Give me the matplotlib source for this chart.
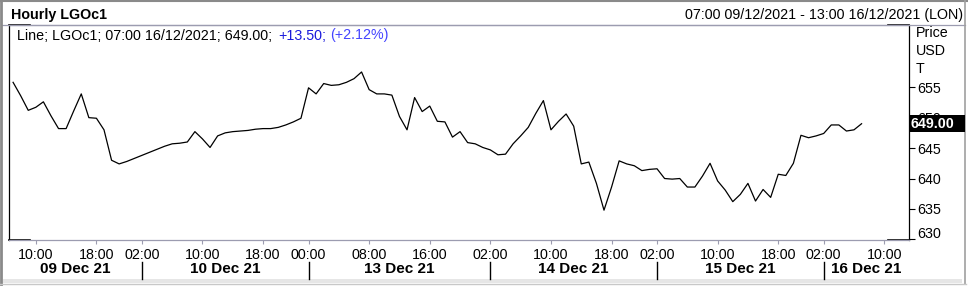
import matplotlib
matplotlib.use("Agg")
import matplotlib.pyplot as plt
import matplotlib.transforms as mtransforms
from matplotlib.patches import Rectangle
from matplotlib.lines import Line2D
import numpy as np

plt.rcParams['font.family'] = ['Liberation Sans', 'DejaVu Sans']

# hourly LGOc1 closes, one list per trading day (07:00 09 Dec .. 07:00 16 Dec)
dec09 = [655.8, 653.6, 651.2, 651.7, 652.6, 650.3, 648.2, 648.2, 651.1, 653.9,
         650.0, 649.9, 648.0, 643.0, 642.4, 642.8]
dec10 = [643.3, 643.8, 644.3, 644.8, 645.3, 645.7, 645.8, 646.0, 647.7, 646.5,
         645.1, 647.0, 647.5, 647.7, 647.8, 647.9, 648.1, 648.2, 648.2, 648.4,
         648.8, 649.3]
dec12 = [649.9]
dec13 = [654.9, 653.9, 655.6, 655.3, 655.4, 655.8, 656.4, 657.5, 654.6, 653.9,
         653.9, 653.7, 650.2, 648.0, 653.3, 651.0, 651.9, 649.4, 649.3, 646.8,
         647.7, 645.9, 645.7]
dec14 = [645.1, 644.7, 643.9, 644.0, 645.7, 647.0, 648.4, 650.7, 652.8, 648.0,
         649.4, 650.6, 648.6, 642.4, 642.7, 639.2, 634.8, 638.6, 642.9, 642.4,
         642.1, 641.3]
dec15 = [641.5, 641.6, 640.0, 639.9, 640.0, 638.6, 638.6, 640.4, 642.5, 639.6,
         638.1, 636.2, 637.4, 639.2, 636.3, 638.2, 636.9, 640.7, 640.5, 642.5,
         647.1, 646.7]
dec16 = [647.0, 647.4, 648.8, 648.8, 647.8, 648.0, 649.0]
price = dec09 + dec10 + dec12 + dec13 + dec14 + dec15 + dec16

# bar index of each time label on the x axis
tick_pos = [3, 11, 17, 25, 33, 39, 47, 55, 63, 71, 79, 85, 93, 101, 107, 115]
tick_labels = ["10:00", "18:00", "02:00", "10:00", "18:00", "00:00", "08:00", "16:00",
               "02:00", "10:00", "18:00", "02:00", "10:00", "18:00", "02:00", "10:00"]
day_starts = [17, 39, 63, 85, 107]
day_labels = ["09 Dec 21", "10 Dec 21", "13 Dec 21", "14 Dec 21", "15 Dec 21", "16 Dec 21"]
y_ticks = [630, 635, 640, 645, 650, 655]

W, H = 968, 286
fs = 10.3
fig = plt.figure(figsize=(W / 100, H / 100), dpi=100)


def fx(x):
    return x / W


def fy(y):
    return 1 - y / H


ax = fig.add_axes([fx(9.3), fy(240), fx(900), 215.5 / H])
x = np.arange(len(price))
ax.plot(x, price, color="black", lw=0.9)
xmin, xmax = -0.5, 118.3
ax.set_xlim(xmin, xmax)
ax.set_ylim(629.9, 665.3)

grey = "#9c9cb0"
ax.spines["left"].set_color("black")
ax.spines["right"].set_color("black")
ax.spines["top"].set_color(grey)
ax.spines["bottom"].set_color(grey)
for s in ax.spines.values():
    s.set_linewidth(0.9)
# black stubs at the frame corners
stub = 21 / 900
for yy in (0, 1):
    for x0, x1 in ((0, stub), (1 - stub, 1)):
        ax.add_line(Line2D([x0, x1], [yy, yy], transform=ax.transAxes, color="black",
                           lw=1.2, clip_on=False))

ax.yaxis.tick_right()
ax.set_yticks(y_ticks)
ax.set_yticklabels([str(v) for v in y_ticks])
ax.tick_params(axis="y", direction="out", length=4.5, width=0.8, pad=1.5, labelsize=fs,
               colors="black")
for lab in ax.get_yticklabels():
    if lab.get_text() == "630":
        lab.set_transform(lab.get_transform() +
                          mtransforms.ScaledTranslation(0, 7 / 100, fig.dpi_scale_trans))

ax.set_xticks(tick_pos)
ax.set_xticklabels(tick_labels)
ax.tick_params(axis="x", direction="out", length=3, width=0.8, pad=2.5, labelsize=fs,
               color=grey, labelcolor="black")

# day row under the time labels
tr = mtransforms.blended_transform_factory(ax.transData, fig.transFigure)
edges = [xmin] + day_starts + [xmax]
for d in day_starts:
    fig.add_artist(Line2D([d, d], [fy(262), fy(279)], transform=tr, color="black", lw=1))
for i, lab in enumerate(day_labels):
    fig.text((edges[i] + edges[i + 1]) / 2, fy(269), lab, transform=tr, ha="center",
             va="center", fontsize=11, fontweight="bold")

# header
fig.add_artist(Line2D([fx(2), fx(965)], [fy(24.5), fy(24.5)], color=grey, lw=0.9))
fig.text(fx(11), fy(14.5), "Hourly LGOc1", fontsize=fs, fontweight="bold", va="center")
fig.text(fx(963), fy(14.5), "07:00 09/12/2021 - 13:00 16/12/2021 (LON)", fontsize=fs,
         ha="right", va="center")

# info line
fig.text(fx(17.3), fy(35.5), "Line; LGOc1; 07:00 16/12/2021; 649.00;", fontsize=fs,
         va="center")
fig.text(fx(278), fy(35.5), "+13.50;", fontsize=fs, va="center", color="#1a1adc")
fig.text(fx(330), fy(35.5), "(+2.12%)", fontsize=fs, va="center", color="#4444ff")

# unit labels on the right
for yy, t in ((33, "Price"), (51, "USD"), (69, "T")):
    fig.text(fx(916), fy(yy), t, fontsize=fs, va="center")

# last value marker
fig.add_artist(Rectangle((fx(909.5), fy(132)), fx(55.5), 17 / H, facecolor="black",
                         edgecolor="none", zorder=5))
fig.text(fx(910.5), fy(123.5), "649.00", fontsize=fs, fontweight="bold", color="white",
         va="center", zorder=6)

# window frame
fig.add_artist(Rectangle((fx(3), fy(283)), fx(959), 4 / H, facecolor="#e6e6e6",
                         edgecolor="none"))
fig.add_artist(Line2D([fx(1), fx(1)], [0, 1], color="#8a8a8a", lw=2))
fig.add_artist(Line2D([0, 1], [fy(0.5), fy(0.5)], color="#8a8a8a", lw=1.5))
fig.add_artist(Line2D([fx(965), fx(965)], [fy(0), fy(284)], color="#a0a0a0", lw=1.2))
fig.add_artist(Line2D([0, fx(966)], [fy(284), fy(284)], color="#c8c8c8", lw=1))

fig.savefig("out.png", dpi=100)
